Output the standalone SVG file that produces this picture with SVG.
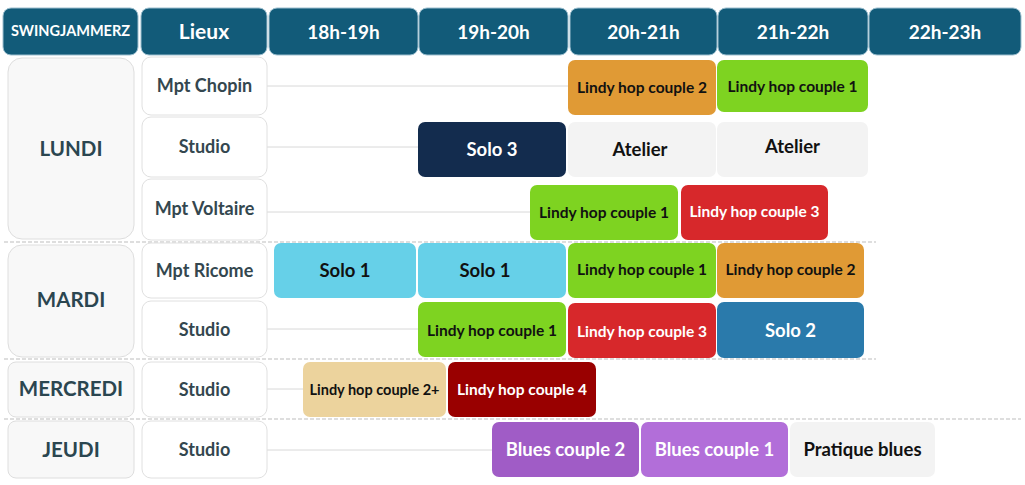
<svg xmlns="http://www.w3.org/2000/svg" width="1025" height="485" viewBox="0 0 1025 485">
<style>
text{font-family:Lato,"Open Sans","Liberation Sans",sans-serif;font-weight:bold;text-anchor:middle;dominant-baseline:central}
.hd rect{fill:#125b79;stroke:#9dbfcf;stroke-width:1}
.hd text{fill:#fff;font-size:19px}
.day rect{fill:#f8f8f8;stroke:#dedede;stroke-width:1}
.day text{fill:#2b4650;font-size:20.5px}
.loc rect{fill:#fff;stroke:#e0e0e0;stroke-width:1}
.loc text{fill:#34474f;font-size:18px}
.b rect{stroke:none}
.b text{font-size:15.5px;fill:#111}
.w text{fill:#fff}
.big text{font-size:18.5px}
.conn line{stroke:#d8d8d8;stroke-width:1}
.sep line{stroke:#bdbdbd;stroke-width:1;stroke-dasharray:4 2}
</style>
<rect width="1025" height="485" fill="#fff"/>
<g id="connectors" class="conn">
<line x1="267" y1="86" x2="568" y2="86"/>
<line x1="267" y1="147" x2="418" y2="147"/>
<line x1="267" y1="212" x2="530" y2="212"/>
<line x1="267" y1="329" x2="418" y2="329"/>
<line x1="267" y1="389" x2="303" y2="389"/>
<line x1="267" y1="450" x2="492" y2="450"/>
</g>
<g id="separators" class="sep">
<line x1="4" y1="242" x2="876" y2="242"/>
<line x1="4" y1="359" x2="876" y2="359"/>
<line x1="4" y1="419" x2="1021" y2="419"/>
</g>
<g id="header" class="hd">
<g id="h-swing"><rect x="3" y="8" width="135" height="47" rx="8"/><text x="70.5" y="30" style="font-size:14.5px">SWINGJAMMERZ</text></g>
<g id="h-lieux"><rect x="141" y="8" width="126" height="47" rx="8"/><text x="204" y="30" style="font-size:21px">Lieux</text></g>
<g id="h-18"><rect x="269" y="8" width="149" height="47" rx="8"/><text x="343.5" y="31">18h-19h</text></g>
<g id="h-19"><rect x="419" y="8" width="149" height="47" rx="8"/><text x="493.5" y="31">19h-20h</text></g>
<g id="h-20"><rect x="570" y="8" width="147" height="47" rx="8"/><text x="643.5" y="31">20h-21h</text></g>
<g id="h-21"><rect x="718" y="8" width="150" height="47" rx="8"/><text x="793" y="31">21h-22h</text></g>
<g id="h-22"><rect x="869" y="8" width="152" height="47" rx="8"/><text x="945" y="31">22h-23h</text></g>
</g>
<g id="days" class="day">
<g id="d-lundi"><rect x="8" y="58" width="126" height="181" rx="14"/><text x="71" y="148">LUNDI</text></g>
<g id="d-mardi"><rect x="8" y="245" width="126" height="112" rx="14"/><text x="71" y="299">MARDI</text></g>
<g id="d-mercredi"><rect x="8" y="362" width="126" height="55" rx="8"/><text x="71" y="388">MERCREDI</text></g>
<g id="d-jeudi"><rect x="8" y="421" width="126" height="57" rx="8"/><text x="71" y="449">JEUDI</text></g>
</g>
<g id="lieux" class="loc">
<g id="l-chopin"><rect x="142" y="57" width="125" height="58" rx="9"/><text x="204.5" y="85">Mpt Chopin</text></g>
<g id="l-studio1"><rect x="142" y="117" width="125" height="60" rx="9"/><text x="204.5" y="146">Studio</text></g>
<g id="l-voltaire"><rect x="142" y="179" width="125" height="61" rx="9"/><text x="204.5" y="208">Mpt Voltaire</text></g>
<g id="l-ricome"><rect x="142" y="243" width="125" height="55" rx="9"/><text x="204.5" y="270">Mpt Ricome</text></g>
<g id="l-studio2"><rect x="142" y="301" width="125" height="56" rx="9"/><text x="204.5" y="329">Studio</text></g>
<g id="l-studio3"><rect x="142" y="362" width="125" height="55" rx="9"/><text x="204.5" y="389">Studio</text></g>
<g id="l-studio4"><rect x="142" y="421" width="125" height="57" rx="9"/><text x="204.5" y="449">Studio</text></g>
</g>
<g id="courses">
<g id="c1" class="b"><rect x="568" y="60" width="148" height="55" rx="7" fill="#e09a35"/><text x="642" y="87">Lindy hop couple 2</text></g>
<g id="c2" class="b"><rect x="717" y="60" width="151" height="52" rx="7" fill="#7ed321"/><text x="792.5" y="86">Lindy hop couple 1</text></g>
<g id="c3" class="b w big"><rect x="418" y="122" width="148" height="55" rx="7" fill="#132c4e"/><text x="492" y="149">Solo 3</text></g>
<g id="c4" class="b big"><rect x="568" y="122" width="148" height="55" rx="7" fill="#f3f3f3"/><text x="640" y="149">Atelier</text></g>
<g id="c5" class="b big"><rect x="717" y="122" width="151" height="55" rx="7" fill="#f3f3f3"/><text x="792.5" y="146">Atelier</text></g>
<g id="c6" class="b"><rect x="530" y="185" width="148" height="55" rx="7" fill="#7ed321"/><text x="604" y="212">Lindy hop couple 1</text></g>
<g id="c7" class="b w"><rect x="681" y="185" width="147" height="55" rx="7" fill="#d7282b"/><text x="754.5" y="211">Lindy hop couple 3</text></g>
<g id="c8" class="b big"><rect x="274" y="243" width="142" height="55" rx="7" fill="#66d0e8"/><text x="345" y="270">Solo 1</text></g>
<g id="c9" class="b big"><rect x="418" y="243" width="148" height="55" rx="7" fill="#66d0e8"/><text x="485" y="270">Solo 1</text></g>
<g id="c10" class="b"><rect x="568" y="243" width="148" height="55" rx="7" fill="#7ed321"/><text x="642" y="269">Lindy hop couple 1</text></g>
<g id="c11" class="b"><rect x="717" y="243" width="147" height="55" rx="7" fill="#e09a35"/><text x="790.5" y="269">Lindy hop couple 2</text></g>
<g id="c12" class="b"><rect x="418" y="302" width="148" height="55" rx="7" fill="#7ed321"/><text x="492" y="330">Lindy hop couple 1</text></g>
<g id="c13" class="b w"><rect x="568" y="303" width="148" height="55" rx="7" fill="#d7282b"/><text x="642" y="331">Lindy hop couple 3</text></g>
<g id="c14" class="b w big"><rect x="717" y="302" width="147" height="56" rx="7" fill="#2a7aab"/><text x="790.5" y="330">Solo 2</text></g>
<g id="c15" class="b"><rect x="303" y="362" width="143" height="55" rx="7" fill="#ecd39d"/><text x="374.5" y="389" style="font-size:14.5px">Lindy hop couple 2+</text></g>
<g id="c16" class="b w"><rect x="448" y="362" width="148" height="55" rx="7" fill="#990000"/><text x="522" y="389">Lindy hop couple 4</text></g>
<g id="c17" class="b w big"><rect x="492" y="422" width="147" height="55" rx="7" fill="#a05cc6"/><text x="565.5" y="449">Blues couple 2</text></g>
<g id="c18" class="b w big"><rect x="641" y="422" width="147" height="55" rx="7" fill="#b26ed9"/><text x="714.5" y="449">Blues couple 1</text></g>
<g id="c19" class="b big"><rect x="790" y="422" width="145" height="55" rx="7" fill="#f3f3f3"/><text x="862.5" y="449">Pratique blues</text></g>
</g>
</svg>
